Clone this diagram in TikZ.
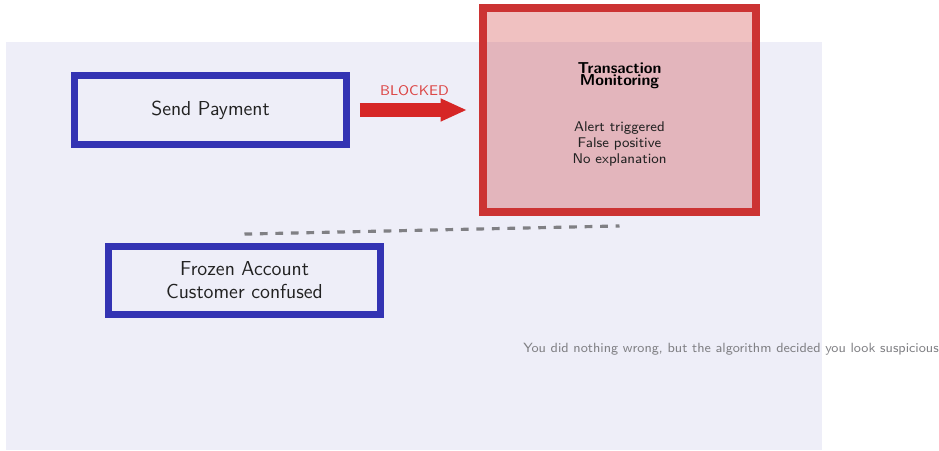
\documentclass[tikz,border=0pt]{standalone}
\usepackage{tikz}
\usetikzlibrary{arrows.meta}
\usetikzlibrary{calc}

\definecolor{boxblue}{RGB}{51,51,179}
\definecolor{alertred}{RGB}{204,51,51}
\definecolor{arrowred}{RGB}{214,38,38}
\definecolor{panelbg}{RGB}{238,238,248}
\definecolor{notegray}{RGB}{128,128,132}
\definecolor{inkgray}{RGB}{34,34,34}

\begin{document}
\begin{tikzpicture}[font=\sffamily, text=inkgray,
    stepbox/.style={draw=boxblue, line width=3.9pt, minimum width=5.44cm, minimum height=1.38cm, inner sep=0pt, align=center, font=\sffamily\fontsize{11.5}{13}\selectfont},
    monitorbox/.style={draw=alertred, fill=alertred, fill opacity=0.3, line width=4.5pt, minimum width=5.46cm, minimum height=4.08cm, inner sep=0pt},
    monitortitle/.style={align=center, text=black, font=\sffamily\bfseries\fontsize{9}{7}\selectfont},
    monitortext/.style={align=center, font=\sffamily\fontsize{8}{9}\selectfont},
    blockarrow/.style={draw=arrowred, line width=8pt, -{Triangle[length=15pt,width=12pt]}, shorten <=0.2cm, shorten >=0.24cm},
    linkdash/.style={draw=notegray, line width=1.8pt, dash pattern=on 4.4pt off 4.4pt}]
    \useasboundingbox (0,0) rectangle (18.78,9);
    \fill[panelbg] (0.12,0) rectangle (16.44,8.16);

    \node[stepbox] (send) at (4.21,6.8) {Send Payment};
    \node[stepbox, minimum height=1.36cm] (frozen) at (4.89,3.39) {Frozen Account\\Customer confused};
    \node[monitorbox] (monitor) at (12.39,6.8) {};
    \node[monitortitle] (title) at ($(monitor.center)+(0,0.68)$) {Transaction\\Monitoring};
    \node[monitortext] (details) at ($(monitor.center)+(0,-0.68)$) {Alert triggered\\False positive\\No explanation};

    \draw[blockarrow] (send.east) -- node[above=1pt, text=arrowred!85!white, font=\sffamily\footnotesize] (blocked) {BLOCKED} (monitor.west);
    \draw[linkdash] ([yshift=0.18cm]frozen.north) -- ([yshift=-0.2cm]monitor.south);

    \node[text=notegray, inner sep=0pt, font=\sffamily\fontsize{7.6}{9}\selectfont] (note) at (14.62,2.02) {You did nothing wrong, but the algorithm decided you look suspicious};
\end{tikzpicture}
\end{document}
